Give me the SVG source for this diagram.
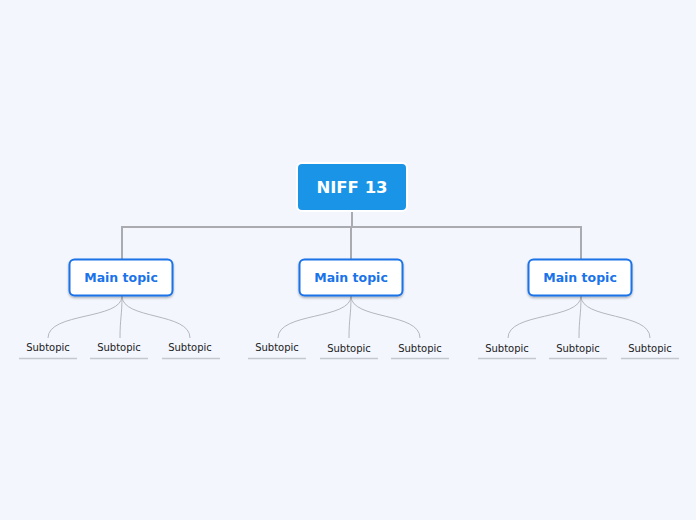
<svg xmlns="http://www.w3.org/2000/svg" width="696" height="520" viewBox="0 0 696 520">
<defs>
<filter id="sh" x="-20%" y="-30%" width="140%" height="170%">
<feDropShadow dx="0" dy="1.5" stdDeviation="1.2" flood-color="#000" flood-opacity="0.3"/>
</filter>
</defs>
<style>
.main rect{fill:#fff;stroke:#1a73e8;stroke-width:2;}
.main text{font-family:"DejaVu Sans",sans-serif;font-weight:bold;font-size:12.5px;fill:#1a73e8;text-anchor:middle;}
.sub text{font-family:"DejaVu Sans",sans-serif;font-size:10px;fill:#222;text-anchor:middle;}
.sub line{stroke:#c4c8cf;stroke-width:1.5;}
.trunk{stroke:#a9abb0;stroke-width:2;fill:none;}
.twig{stroke:#b4b7bd;stroke-width:1;fill:none;}
</style>
<rect width="696" height="520" fill="#f3f6fd"/>
<g id="connectors">
<path class="trunk" d="M352 212 V227 M122 227 H581 M122 226 V259 M351 227 V259 M581 226 V259"/>
<path class="twig" d="M122 296 C122 320 48 312 48 338 M122 296 C122 316 120 318 120 338 M122 296 C122 320 190 312 190 338"/>
<path class="twig" d="M351 296 C351 320 278 312 278 338 M351 296 C351 316 349 318 349 338 M351 296 C351 320 420 312 420 338"/>
<path class="twig" d="M581 296 C581 320 508 312 508 338 M581 296 C581 316 579 318 579 338 M581 296 C581 320 650 312 650 338"/>
</g>
<g id="root">
<rect x="297" y="163" width="110" height="48" rx="5" fill="#1a94e6" stroke="#fff" stroke-width="2"/>
<text x="352" y="193" font-family="DejaVu Sans, sans-serif" font-weight="bold" font-size="16.5" fill="#fff" text-anchor="middle">NIFF 13</text>
</g>
<g id="main1" class="main"><rect x="69.5" y="259.5" width="103" height="36" rx="5" filter="url(#sh)"/><text x="121" y="282">Main topic</text></g>
<g id="main2" class="main"><rect x="299.5" y="259.5" width="103" height="36" rx="5" filter="url(#sh)"/><text x="351" y="282">Main topic</text></g>
<g id="main3" class="main"><rect x="528.5" y="259.5" width="103" height="36" rx="5" filter="url(#sh)"/><text x="580" y="282">Main topic</text></g>
<g id="sub1" class="sub"><text x="48" y="351">Subtopic</text><line x1="19" y1="358.5" x2="77" y2="358.5"/></g>
<g id="sub2" class="sub"><text x="119" y="351">Subtopic</text><line x1="90" y1="358.5" x2="148" y2="358.5"/></g>
<g id="sub3" class="sub"><text x="190" y="351">Subtopic</text><line x1="162" y1="358.5" x2="220" y2="358.5"/></g>
<g id="sub4" class="sub"><text x="277" y="351">Subtopic</text><line x1="248" y1="358.5" x2="306" y2="358.5"/></g>
<g id="sub5" class="sub"><text x="349" y="352">Subtopic</text><line x1="320" y1="358.5" x2="378" y2="358.5"/></g>
<g id="sub6" class="sub"><text x="420" y="352">Subtopic</text><line x1="391" y1="358.5" x2="449" y2="358.5"/></g>
<g id="sub7" class="sub"><text x="507" y="352">Subtopic</text><line x1="478" y1="358.5" x2="536" y2="358.5"/></g>
<g id="sub8" class="sub"><text x="578" y="352">Subtopic</text><line x1="549" y1="358.5" x2="607" y2="358.5"/></g>
<g id="sub9" class="sub"><text x="650" y="352">Subtopic</text><line x1="621" y1="358.5" x2="679" y2="358.5"/></g>
</svg>
